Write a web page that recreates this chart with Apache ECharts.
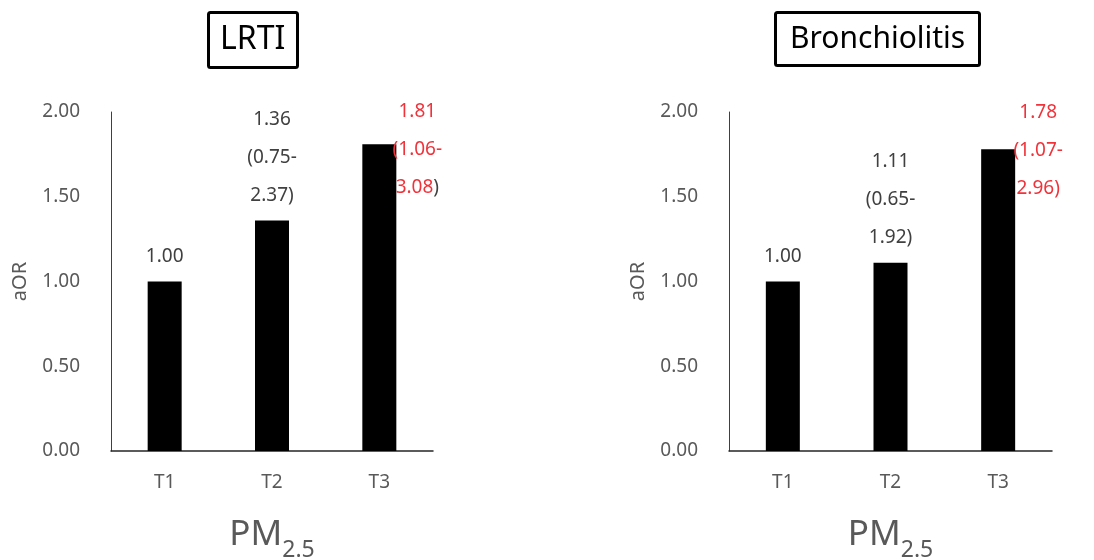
<!DOCTYPE html>
<html>
<head>
<meta charset="utf-8">
<script src="https://cdn.jsdelivr.net/npm/echarts@6/dist/echarts.min.js"></script>
<style>html,body{margin:0;padding:0;background:#fff}#c{width:1094px;height:560px}</style>
</head>
<body>
<div id="c"></div>
<script>
const categories = ['T1', 'T2', 'T3'];
const yTicks = [0, 0.5, 1.0, 1.5, 2.0];
const titles = ['LRTI', 'Bronchiolitis'];
const lrtiOR = [1.00, 1.36, 1.81];
const lrtiLower = [null, 0.75, 1.06];
const lrtiUpper = [null, 2.37, 3.08];
const bronchOR = [1.00, 1.11, 1.78];
const bronchLower = [null, 0.65, 1.07];
const bronchUpper = [null, 1.92, 2.96];
const significant = [false, false, true];
const yName = 'aOR';

const FONT = '"Noto Sans", "Open Sans", sans-serif';
const RED = '#f0333b';
const GRAY = '#404040';

function labelText(v, lo, hi, sig, grayParen) {
  const k = sig ? 'r' : 'g';
  if (lo == null) return `{${k}|${v.toFixed(2)}}`;
  const close = grayParen ? '{g|)}' : `{${k}|)}`;
  return `{${k}|${v.toFixed(2)}}\n{${k}|(${lo.toFixed(2)}-}\n{${k}|${hi.toFixed(2)}}${close}`;
}

function buildData(vals, lo, hi, grayParenLast, offsetLast) {
  return vals.map((v, i) => {
    const item = {
      value: v,
      label: { formatter: labelText(v, lo[i], hi[i], significant[i], grayParenLast && i === 2) }
    };
    if (significant[i]) item.label.offset = offsetLast;
    return item;
  });
}

const richLabel = {
  r: { color: RED, fontSize: 19, lineHeight: 38, fontFamily: FONT },
  g: { color: GRAY, fontSize: 19, lineHeight: 38, fontFamily: FONT }
};

const grids = [
  { left: 111, top: 112, width: 322, height: 339, outerBoundsMode: 'none', containLabel: false },
  { left: 729, top: 112, width: 323, height: 339, outerBoundsMode: 'none', containLabel: false }
];

function xAxis(i) {
  return {
    type: 'category', gridIndex: i, data: categories,
    axisLine: { lineStyle: { color: '#262626', width: 1.5 } },
    axisTick: { show: false },
    axisLabel: { color: '#595959', fontSize: 19, fontFamily: FONT, margin: 22 },
    name: '{m|PM}{s|2.5}', nameLocation: 'middle', nameGap: 58,
    nameTextStyle: {
      rich: {
        m: { fontSize: 35, color: '#595959', fontFamily: FONT, verticalAlign: 'bottom', lineHeight: 44 },
        s: { fontSize: 23, color: '#595959', fontFamily: FONT, verticalAlign: 'bottom', lineHeight: 44, padding: [0, 0, -9, 0] }
      }
    }
  };
}
function yAxis(i) {
  return {
    type: 'value', gridIndex: i, min: yTicks[0], max: yTicks[yTicks.length - 1], interval: 0.5,
    axisLine: { show: true, lineStyle: { color: '#404040', width: 1 } },
    axisTick: { show: false },
    splitLine: { show: false },
    axisLabel: { color: '#595959', fontSize: 19, fontFamily: FONT, margin: 31, formatter: v => v.toFixed(2) },
    name: yName, nameLocation: 'middle', nameGap: 81,
    nameTextStyle: { color: '#595959', fontSize: 20, fontFamily: FONT }
  };
}

const chart = echarts.init(document.getElementById('c'), null, { renderer: 'canvas' });
chart.setOption({
  backgroundColor: '#fff',
  animation: false,
  title: [
    { text: titles[0], left: 208, top: 12, borderColor: '#000', borderWidth: 3, borderRadius: 2, padding: [12, 12, 12, 12],
      textStyle: { fontSize: 32, fontWeight: 'normal', color: '#000', fontFamily: FONT } },
    { text: titles[1], left: 775, top: 12, borderColor: '#000', borderWidth: 3, borderRadius: 2, padding: [12, 15, 12, 15],
      textStyle: { fontSize: 30, fontWeight: 'normal', color: '#000', fontFamily: FONT } }
  ],
  grid: grids,
  xAxis: [xAxis(0), xAxis(1)],
  yAxis: [yAxis(0), yAxis(1)],
  series: [
    { type: 'bar', xAxisIndex: 0, yAxisIndex: 0, barWidth: 34,
      itemStyle: { color: '#000' },
      label: { show: true, position: 'top', distance: 6, rich: richLabel },
      data: buildData(lrtiOR, lrtiLower, lrtiUpper, true, [38, 68]) },
    { type: 'bar', xAxisIndex: 1, yAxisIndex: 1, barWidth: 34,
      itemStyle: { color: '#000' },
      label: { show: true, position: 'top', distance: 6, rich: richLabel },
      data: buildData(bronchOR, bronchLower, bronchUpper, false, [40, 64]) }
  ]
});
</script>
</body>
</html>
